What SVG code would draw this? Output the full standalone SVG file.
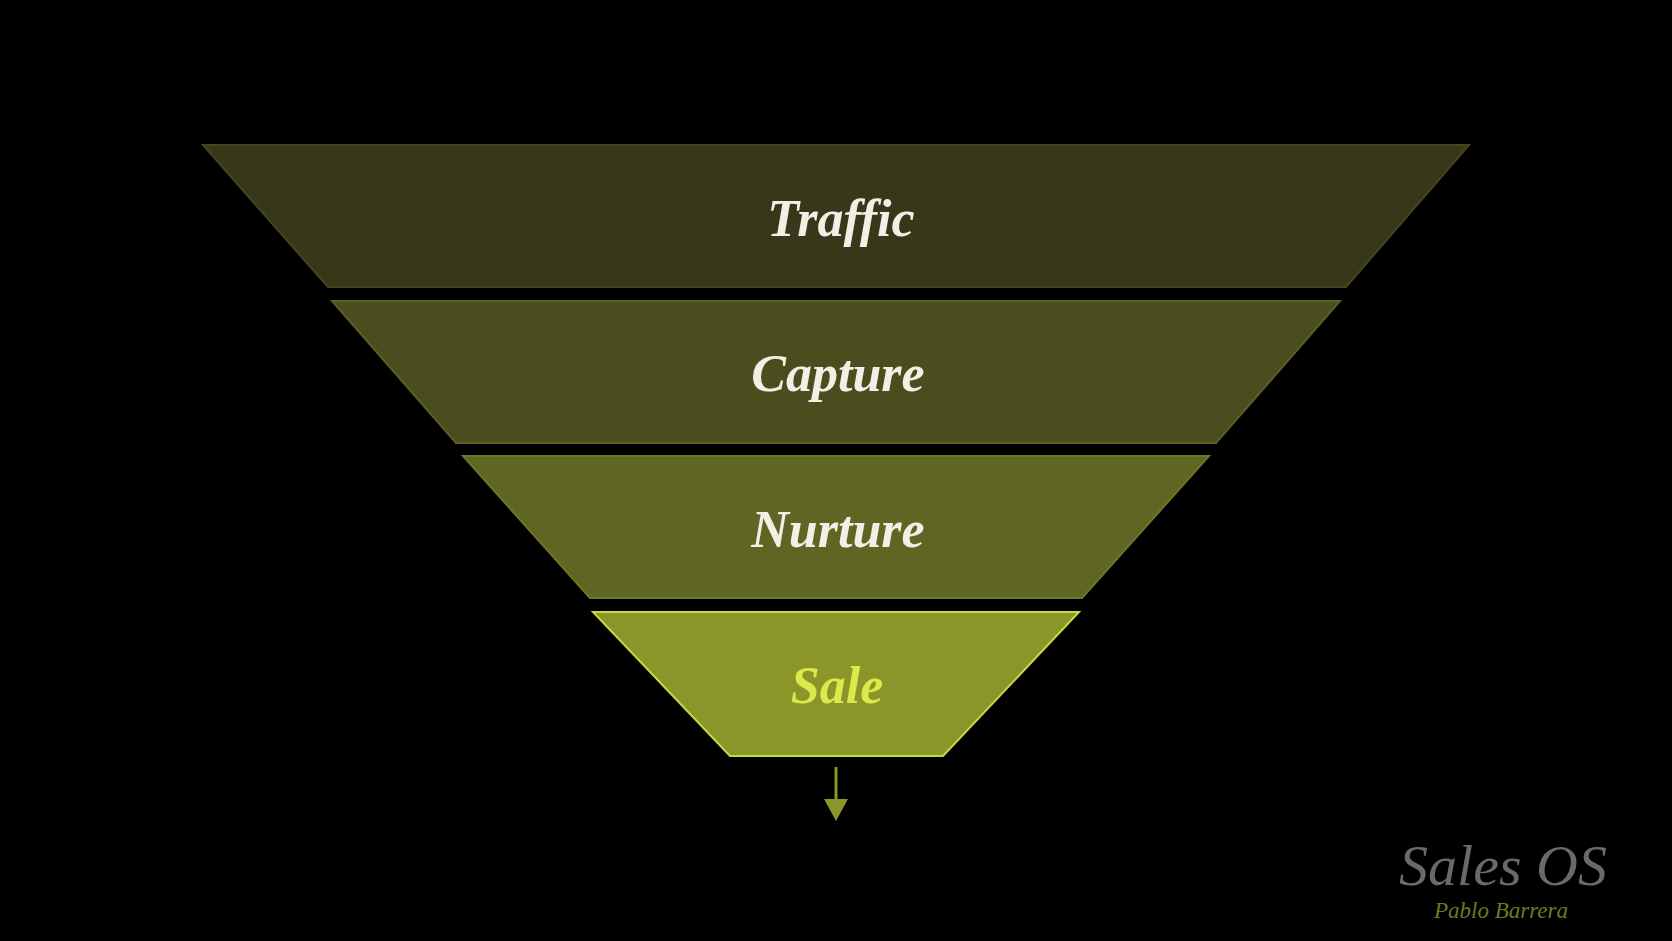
<svg xmlns="http://www.w3.org/2000/svg" width="1672" height="941" viewBox="0 0 1672 941">
<style>
.lbl{font-family:"Liberation Serif",serif;font-weight:bold;font-style:italic;font-size:52px;fill:#f2f0e6;text-anchor:middle}
.band{stroke-width:2}
</style>
<rect width="1672" height="941" fill="#000"/>
<g id="traffic"><polygon class="band" points="203,145 1469,145 1346,287 328,287" fill="#37381a" stroke="#45461f"/><text class="lbl" x="841" y="236">Traffic</text></g>
<g id="capture"><polygon class="band" points="332,301 1340,301 1216,443 456,443" fill="#4a4e1e" stroke="#5a5f22"/><text class="lbl" x="838" y="391">Capture</text></g>
<g id="nurture"><polygon class="band" points="463,456 1209,456 1082,598 590,598" fill="#5f6624" stroke="#6e7628"/><text class="lbl" x="838" y="547">Nurture</text></g>
<g id="sale"><polygon class="band" points="593,612 1079,612 943,756 730,756" fill="#8a962a" stroke="#c8d840" stroke-width="3"/><text class="lbl" x="837" y="703" style="fill:#dde84a">Sale</text></g>
<g id="connectors"><line x1="836" y1="767" x2="836" y2="802" stroke="#8a962a" stroke-width="3"/><polygon points="824,799 848,799 836,821" fill="#8a962a"/></g>
<g id="brand"><text x="1503" y="885" font-family="Liberation Serif,serif" font-style="italic" font-size="58" fill="#6a6a6a" text-anchor="middle">Sales OS</text><text x="1501" y="918" font-family="Liberation Serif,serif" font-style="italic" font-size="23" fill="#6b7a20" text-anchor="middle">Pablo Barrera</text></g>
</svg>
